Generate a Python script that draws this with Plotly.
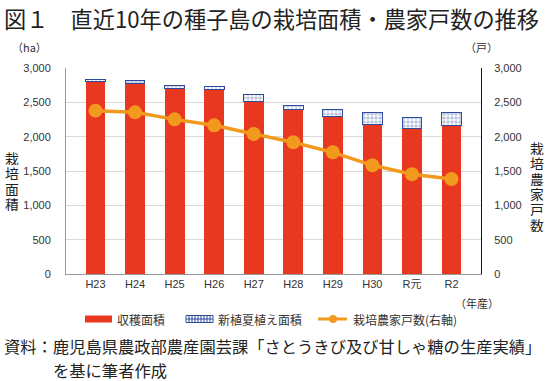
import plotly.graph_objects as go

categories = ["H23", "H24", "H25", "H26", "H27", "H28", "H29", "H30", "R元", "R2"]
harvest_area = [2800, 2777, 2699, 2690, 2510, 2393, 2291, 2170, 2116, 2165]
new_planting_area = [35, 43, 53, 43, 111, 63, 107, 184, 166, 189]
farm_households = [2379, 2354, 2252, 2165, 2039, 1918, 1772, 1583, 1452, 1383]
y_ticks = [0, 500, 1000, 1500, 2000, 2500, 3000]
y_ticktext = ["0", "500", "1,000", "1,500", "2,000", "2,500", "3,000"]

W, H = 546, 381
L, R, T, B = 66, 481, 68, 274

RED = "#E8381F"
BLUE = "#2E4C9E"
ORANGE = "#F29A1E"
TXT = "#333333"
NUMFONT = "Liberation Sans, Arial, Noto Sans CJK JP"
JPFONT = "Noto Sans CJK JP"


def px(x):
    return (x - L) / (R - L)


def py(y):
    return (B - y) / (B - T)


fig = go.Figure()
fig.add_trace(go.Bar(
    x=categories, y=harvest_area, name="収穫面積",
    marker=dict(color=RED, line=dict(width=0)), width=0.5, showlegend=False,
))
fig.add_trace(go.Bar(
    x=categories, y=new_planting_area, name="新植夏植え面積",
    marker=dict(color="white", line=dict(color=BLUE, width=1),
                pattern=dict(shape="+", fgcolor=BLUE, bgcolor="white", size=4, solidity=0.35)),
    width=0.5, showlegend=False,
))
fig.add_trace(go.Scatter(
    x=categories, y=farm_households, name="栽培農家戸数(右軸)", yaxis="y2",
    mode="lines+markers", line=dict(color=ORANGE, width=3.5),
    marker=dict(color=ORANGE, size=14), showlegend=False,
))

annotations = []
shapes = []

# title
annotations.append(dict(text="図１　直近10年の種子島の栽培面積・農家戸数の推移",
                        x=px(2), y=py(18), xref="paper", yref="paper",
                        xanchor="left", yanchor="middle", showarrow=False,
                        font=dict(family=JPFONT, size=22.2, color="#222222")))
# units
annotations.append(dict(text="（ha）", x=px(10), y=py(47), xref="paper", yref="paper",
                        xanchor="left", yanchor="middle", showarrow=False,
                        font=dict(family=JPFONT, size=11, color=TXT)))
annotations.append(dict(text="（戸）", x=px(463), y=py(47), xref="paper", yref="paper",
                        xanchor="left", yanchor="middle", showarrow=False,
                        font=dict(family=JPFONT, size=11, color=TXT)))
annotations.append(dict(text="（年産）", x=px(501), y=py(303), xref="paper", yref="paper",
                        xanchor="right", yanchor="middle", showarrow=False,
                        font=dict(family=JPFONT, size=11, color=TXT)))
# vertical axis titles
for i, ch in enumerate("栽培面積"):
    annotations.append(dict(text=ch, x=px(12), y=py(157 + i * 15.5), xref="paper", yref="paper",
                            xanchor="center", yanchor="middle", showarrow=False,
                            height=15, borderpad=0,
                            font=dict(family=JPFONT, size=13.8, color="#222222")))
for i, ch in enumerate("栽培農家戸数"):
    annotations.append(dict(text=ch, x=px(537), y=py(147 + i * 15.5), xref="paper", yref="paper",
                            xanchor="center", yanchor="middle", showarrow=False,
                            height=15, borderpad=0,
                            font=dict(family=JPFONT, size=13.8, color="#222222")))

# custom legend
LY = 319
shapes.append(dict(type="rect", xref="paper", yref="paper", x0=px(85), x1=px(112),
                   y0=py(LY - 3.5), y1=py(LY + 3.5), fillcolor=RED, line=dict(width=0)))
annotations.append(dict(text="収穫面積", x=px(115), y=py(LY), xref="paper", yref="paper",
                        xanchor="left", yanchor="middle", showarrow=False,
                        font=dict(family=JPFONT, size=12, color=TXT)))
shapes.append(dict(type="rect", xref="paper", yref="paper", x0=px(186), x1=px(213),
                   y0=py(LY - 3.5), y1=py(LY + 3.5), fillcolor="white",
                   line=dict(color=BLUE, width=1)))
shapes.append(dict(type="line", xref="paper", yref="paper", x0=px(186), x1=px(213),
                   y0=py(LY), y1=py(LY), line=dict(color=BLUE, width=1)))
for k in range(1, 9):
    xx = 186 + k * 3
    shapes.append(dict(type="line", xref="paper", yref="paper", x0=px(xx), x1=px(xx),
                       y0=py(LY - 3.5), y1=py(LY + 3.5), line=dict(color=BLUE, width=1)))
annotations.append(dict(text="新植夏植え面積", x=px(216), y=py(LY), xref="paper", yref="paper",
                        xanchor="left", yanchor="middle", showarrow=False,
                        font=dict(family=JPFONT, size=12, color=TXT)))
shapes.append(dict(type="line", xref="paper", yref="paper", x0=px(318), x1=px(347),
                   y0=py(LY), y1=py(LY), line=dict(color=ORANGE, width=3)))
shapes.append(dict(type="circle", xref="paper", yref="paper", x0=px(329), x1=px(337),
                   y0=py(LY - 4), y1=py(LY + 4), fillcolor=ORANGE, line=dict(width=0)))
annotations.append(dict(text="栽培農家戸数(右軸)", x=px(351), y=py(LY), xref="paper", yref="paper",
                        xanchor="left", yanchor="middle", showarrow=False,
                        font=dict(family=JPFONT, size=12, color=TXT)))

# source note
annotations.append(dict(text="資料：鹿児島県農政部農産園芸課「さとうきび及び甘しゃ糖の生産実績」",
                        x=px(2), y=py(346), xref="paper", yref="paper",
                        xanchor="left", yanchor="middle", showarrow=False,
                        font=dict(family=JPFONT, size=16.3, color="#222222")))
annotations.append(dict(text="を基に筆者作成",
                        x=px(51), y=py(370), xref="paper", yref="paper",
                        xanchor="left", yanchor="middle", showarrow=False,
                        font=dict(family=JPFONT, size=16.3, color="#222222")))

fig.update_layout(
    width=W, height=H,
    margin=dict(l=L, r=W - R, t=T, b=H - B, pad=0),
    paper_bgcolor="white", plot_bgcolor="white",
    barmode="stack", bargap=0.5,
    showlegend=False,
    xaxis=dict(showline=True, linecolor="#999999", linewidth=1, ticks="",
               tickfont=dict(family=NUMFONT, size=11, color=TXT), showgrid=False),
    yaxis=dict(range=[0, 3000], tickvals=y_ticks, ticktext=y_ticktext,
               showline=True, linecolor="#999999", linewidth=1,
               gridcolor="#D9D9D9", gridwidth=1, zeroline=False,
               ticks="", ticklabelstandoff=12,
               tickfont=dict(family=NUMFONT, size=11, color=TXT)),
    yaxis2=dict(range=[0, 3000], tickvals=y_ticks, ticktext=y_ticktext,
                overlaying="y", side="right", showgrid=False, zeroline=False,
                showline=True, linecolor="#111111", linewidth=1,
                ticks="", ticklabelstandoff=10,
                tickfont=dict(family=NUMFONT, size=11, color=TXT)),
    annotations=annotations,
    shapes=shapes,
)

fig.write_html("out.html", config={"displayModeBar": False},
               post_script="document.body.style.margin='0';document.body.style.padding='0';")
